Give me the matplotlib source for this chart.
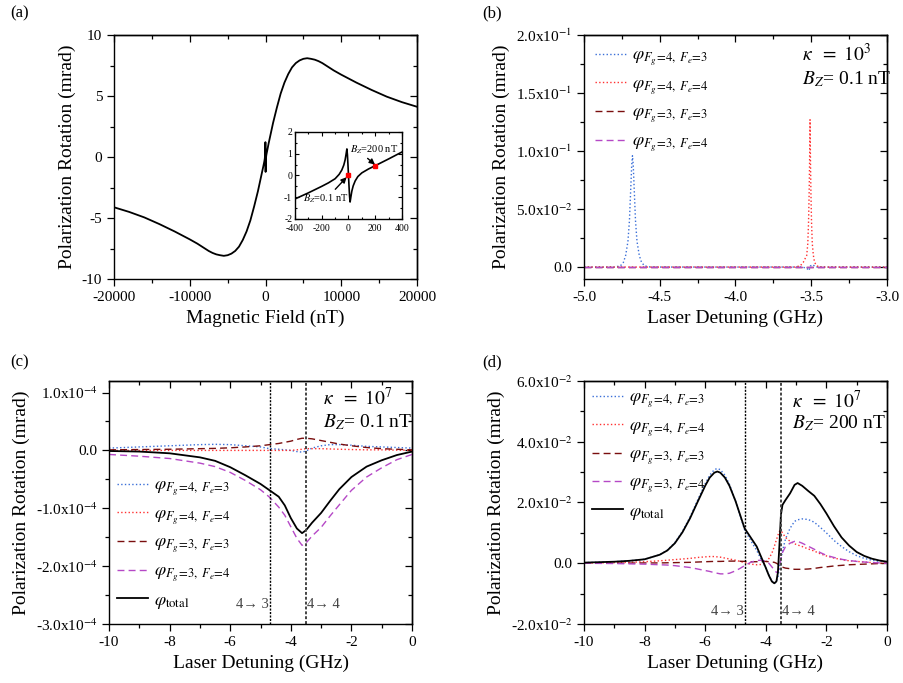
import numpy as np
import matplotlib
matplotlib.use("Agg")
from matplotlib import pyplot as plt
from matplotlib.ticker import MultipleLocator

plt.rcParams['font.family'] = ['Liberation Serif', 'DejaVu Serif']
plt.rcParams['mathtext.fontset'] = 'stix'
plt.rcParams['axes.unicode_minus'] = False
plt.rcParams['axes.linewidth'] = 1.0

# ---- data ----
# (a) rotation vs magnetic field (nT, mrad)
field_a = [-20000, -18000, -16000, -14000, -12000, -10000, -9000, -8000, -7500, -7000, -6500,
           -6000, -5500, -5000, -4500, -4000, -3500, -3000, -2500, -2000, -1500, -1000,
           -400, -300, -200, -150, -100, -70, -50, -35, -25, -18, -12, -8, -4, 0,
           4, 8, 12, 18, 25, 35, 50, 70, 100, 150, 200, 300, 400,
           1000, 1500, 2000, 2500, 3000, 3500, 4000, 4500, 5000, 5500, 6000,
           6500, 7000, 7500, 8000, 9000, 10000, 12000, 14000, 16000, 18000, 20000]
rot_a = [-4.12, -4.5, -4.95, -5.5, -6.1, -6.75, -7.1, -7.5, -7.7, -7.86, -7.98,
         -8.05, -8.1, -8.05, -7.92, -7.7, -7.35, -6.8, -6.1, -5.2, -4.05, -2.8,
         -1.08, -0.80, -0.50, -0.34, -0.15, 0.05, 0.25, 0.48, 0.72, 0.98, 1.22, 0.95, 0.5, 0.0,
         -0.5, -0.95, -1.22, -0.98, -0.72, -0.48, -0.25, -0.05, 0.12, 0.30, 0.45, 0.76, 1.08,
         2.8, 4.05, 5.2, 6.1, 6.8, 7.35, 7.7, 7.92, 8.05, 8.1, 8.05,
         7.98, 7.86, 7.7, 7.5, 7.1, 6.75, 6.1, 5.5, 4.95, 4.5, 4.12]
inset_field = [f for f in field_a if -400 <= f <= 400]
inset_rot = [r for f, r in zip(field_a, rot_a) if -400 <= f <= 400]
marked_field = [0, 200]
marked_rot = [0.0, 0.45]

# (b) kappa = 1e3, Bz = 0.1 nT
det_b43 = [-5.0, -4.8, -4.76, -4.74, -4.725, -4.71, -4.7, -4.69, -4.685, -4.68, -4.675, -4.67,
           -4.66, -4.65, -4.635, -4.62, -4.6, -4.56, -4.5, -3.56, -3.53, -3.515, -3.505, -3.49,
           -3.47, -3.0]
rot_b43 = [0.0, 0.0, 0.001, 0.004, 0.010, 0.022, 0.040, 0.072, 0.088, 0.096, 0.088, 0.072,
           0.040, 0.022, 0.010, 0.004, 0.001, 0.0, 0.0, 0.0, -0.001, -0.003, 0.001, 0.002,
           0.0, 0.0]
det_b44 = [-5.0, -3.61, -3.573, -3.553, -3.53, -3.523, -3.518, -3.514, -3.511, -3.508, -3.505,
           -3.502, -3.498, -3.493, -3.486, -3.478, -3.463, -3.443, -3.41, -3.0]
rot_b44 = [0.0, 0.0, 0.001, 0.004, 0.010, 0.020, 0.038, 0.063, 0.090, 0.127, 0.090,
           0.063, 0.038, 0.020, 0.010, 0.004, 0.001, 0.0, 0.0, 0.0]
det_b33 = [-5.0, -3.0]
rot_b33 = [0.0, 0.0]
det_b34 = [-5.0, -3.0]
rot_b34 = [0.0, 0.0]

# (c) kappa = 1e7, Bz = 0.1 nT  (units of 1e-4 mrad)
det_c = [-10, -9, -8, -7, -6.5, -6, -5.5, -5, -4.7, -4.4, -4.2, -4.0, -3.8, -3.63, -3.5,
         -3.3, -3.0, -2.7, -2.4, -2.0, -1.5, -1.0, -0.5, 0]
c43 = [0.04, 0.06, 0.08, 0.10, 0.105, 0.10, 0.08, 0.06, 0.03, 0.02, 0.01, 0.0, -0.02, -0.03,
       -0.01, 0.04, 0.08, 0.10, 0.10, 0.09, 0.07, 0.06, 0.05, 0.04]
c44 = [0.0, 0.0, 0.0, 0.0, 0.0, 0.0, 0.0, 0.0, 0.0, 0.0, 0.0, 0.0, 0.01, 0.02,
       0.03, 0.03, 0.03, 0.025, 0.02, 0.015, 0.01, 0.01, 0.005, 0.0]
c33 = [0.01, 0.015, 0.02, 0.03, 0.035, 0.045, 0.06, 0.08, 0.10, 0.12, 0.14, 0.16, 0.19, 0.21,
       0.21, 0.20, 0.17, 0.14, 0.11, 0.08, 0.05, 0.03, 0.02, 0.01]
c34 = [-0.07, -0.10, -0.14, -0.22, -0.28, -0.38, -0.52, -0.68, -0.81, -0.98, -1.12, -1.32,
       -1.52, -1.64, -1.60, -1.48, -1.33, -1.13, -0.94, -0.69, -0.46, -0.30, -0.16, -0.07]
c_tot = [-0.01, -0.02, -0.05, -0.12, -0.18, -0.29, -0.43, -0.58, -0.69, -0.80, -0.95, -1.17,
         -1.35, -1.43, -1.38, -1.25, -1.08, -0.87, -0.67, -0.46, -0.28, -0.17, -0.08, -0.02]

# (d) kappa = 1e7, Bz = 200 nT  (units of 1e-2 mrad)
det_d = [-10, -9, -8.5, -8, -7.5, -7.25, -7, -6.75, -6.5, -6.25, -6, -5.85, -5.7, -5.6, -5.5,
         -5.35, -5.2, -5, -4.85, -4.7, -4.5, -4.3, -4.15, -4.0, -3.9, -3.8, -3.72, -3.65,
         -3.6, -3.55, -3.5, -3.45, -3.35, -3.2, -3.05, -2.95, -2.8, -2.6, -2.4, -2.2, -2.0,
         -1.75, -1.5, -1.25, -1.0, -0.75, -0.5, -0.25, 0]
d43 = [0.02, 0.05, 0.08, 0.13, 0.28, 0.43, 0.68, 1.05, 1.52, 2.08, 2.62, 2.9, 3.08, 3.12, 3.08,
       2.9, 2.6, 2.05, 1.58, 1.1, 0.75, 0.42, 0.12, -0.15, -0.38, -0.58, -0.66, -0.62,
       -0.45, -0.15, 0.15, 0.4, 0.8, 1.15, 1.38, 1.43, 1.46, 1.44, 1.35, 1.18, 1.0,
       0.75, 0.55, 0.38, 0.25, 0.16, 0.1, 0.06, 0.04]
d44 = [0.0, 0.02, 0.03, 0.05, 0.08, 0.1, 0.12, 0.14, 0.16, 0.19, 0.21, 0.22, 0.22, 0.21, 0.2,
       0.17, 0.14, 0.1, 0.06, 0.02, -0.03, -0.05, -0.04, 0.02, 0.15, 0.33, 0.55, 0.77,
       0.92, 1.05, 1.08, 1.0, 0.85, 0.72, 0.64, 0.6, 0.55, 0.47, 0.4, 0.31, 0.24,
       0.17, 0.12, 0.08, 0.06, 0.04, 0.02, 0.01, 0.0]
d33 = [0.0, 0.0, 0.005, 0.01, 0.01, 0.015, 0.02, 0.025, 0.03, 0.04, 0.05, 0.055, 0.06, 0.06, 0.06,
       0.065, 0.07, 0.07, 0.065, 0.06, 0.05, 0.05, 0.055, 0.06, 0.05, 0.04, 0.03, 0.0,
       -0.03, -0.06, -0.1, -0.13, -0.16, -0.18, -0.2, -0.2, -0.2, -0.19, -0.17, -0.14, -0.12,
       -0.09, -0.07, -0.05, -0.04, -0.03, -0.02, -0.01, 0.0]
d34 = [0.0, -0.01, -0.02, -0.03, -0.05, -0.06, -0.08, -0.11, -0.14, -0.19, -0.24, -0.27, -0.31,
       -0.33, -0.35, -0.35, -0.33, -0.25, -0.17, -0.08, 0.03, 0.09, 0.1, 0.07, 0.0, -0.12,
       -0.22, -0.3, -0.28, -0.1, 0.15, 0.35, 0.55, 0.66, 0.72, 0.72, 0.66, 0.56, 0.46, 0.35,
       0.26, 0.19, 0.13, 0.09, 0.06, 0.04, 0.02, 0.01, 0.0]
d_tot = [0.02, 0.05, 0.08, 0.13, 0.28, 0.42, 0.66, 1.02, 1.48, 2.02, 2.55, 2.82, 2.98, 3.02, 2.98,
         2.82, 2.55, 2.05, 1.6, 1.15, 0.85, 0.55, 0.2, -0.15, -0.4, -0.6, -0.66, -0.6,
         -0.3, 0.6, 1.6, 1.92, 2.08, 2.3, 2.58, 2.64, 2.55, 2.38, 2.22, 1.95, 1.64,
         1.22, 0.85, 0.58, 0.37, 0.24, 0.15, 0.09, 0.05]

trans_lines = [-4.68, -3.51]

labels = [r'$\varphi_{F_g\!=\!4,\ F_e\!=\!3}$', r'$\varphi_{F_g\!=\!4,\ F_e\!=\!4}$',
          r'$\varphi_{F_g\!=\!3,\ F_e\!=\!3}$', r'$\varphi_{F_g\!=\!3,\ F_e\!=\!4}$',
          r'$\varphi_{\mathrm{total}}$']
colors = ['#3a6fd8', '#ff3030', '#7a0e0e', '#b548c6', 'black']
styles = [':', ':', (0, (5, 3)), (0, (5, 3)), '-']

YLAB = 'Polarization Rotation (mrad)'
XLAB = 'Laser Detuning (GHz)'


def style(ax, xmaj, xmin, ymaj, ymin, fs=11):
    ax.xaxis.set_major_locator(MultipleLocator(xmaj))
    ax.xaxis.set_minor_locator(MultipleLocator(xmin))
    ax.yaxis.set_major_locator(MultipleLocator(ymaj))
    ax.yaxis.set_minor_locator(MultipleLocator(ymin))
    ax.tick_params(which='both', direction='out', labelsize=fs, width=0.9)
    ax.tick_params(which='major', length=5)
    ax.tick_params(which='minor', length=3)
    top = ax.secondary_xaxis('top')
    top.xaxis.set_major_locator(MultipleLocator(xmaj))
    top.xaxis.set_minor_locator(MultipleLocator(xmin))
    top.tick_params(which='both', direction='in', labeltop=False, width=0.9)
    top.tick_params(which='major', length=5)
    top.tick_params(which='minor', length=3)
    right = ax.secondary_yaxis('right')
    right.yaxis.set_major_locator(MultipleLocator(ymaj))
    right.yaxis.set_minor_locator(MultipleLocator(ymin))
    right.tick_params(which='both', direction='in', labelright=False, width=0.9)
    right.tick_params(which='major', length=5)
    right.tick_params(which='minor', length=3)


fig = plt.figure(figsize=(9.04, 6.83), dpi=100)
ax_a = fig.add_axes([0.1261, 0.5915, 0.3352, 0.3572])
ax_b = fig.add_axes([0.646, 0.5915, 0.3352, 0.3572])
ax_c = fig.add_axes([0.1206, 0.0864, 0.3352, 0.3558])
ax_d = fig.add_axes([0.646, 0.0864, 0.3352, 0.3558])

# (a)
ax_a.plot(field_a, rot_a, color='black', lw=1.3)
ax_a.set_xlim(-20000, 20000)
ax_a.set_ylim(-10, 10)
style(ax_a, 10000, 5000, 5, 2.5)
ax_a.set_xlabel('Magnetic Field (nT)', fontsize=14)
ax_a.set_ylabel(YLAB, fontsize=14)

ins = fig.add_axes([0.3263, 0.6794, 0.1184, 0.1274])
ins.plot(inset_field, inset_rot, color='black', lw=1.2)
ins.plot(marked_field, marked_rot, 's', color='red', ms=3.5, mec='red')
ins.set_xlim(-400, 400)
ins.set_ylim(-2, 2)
ins.xaxis.set_major_locator(MultipleLocator(200))
ins.xaxis.set_minor_locator(MultipleLocator(100))
ins.yaxis.set_major_locator(MultipleLocator(1))
ins.yaxis.set_minor_locator(MultipleLocator(0.5))
ins.tick_params(which='both', direction='in', top=True, right=True, labelsize=7,
                width=0.8)
ins.tick_params(axis='x', pad=3.5)
ins.tick_params(axis='y', pad=2)
ins.tick_params(which='major', length=3)
ins.tick_params(which='minor', length=1.5)
ins.annotate(r'$B_Z$=200 nT', xy=(198, 0.5), xytext=(10, 1.2), fontsize=7.5,
             va='center', ha='left',
             arrowprops=dict(arrowstyle='-|>', color='black', lw=1.0,
                             shrinkA=0, shrinkB=0, mutation_scale=8,
                             relpos=(0.3, 0.0)))
ins.annotate(r'$B_Z$=0.1 nT', xy=(-14, -0.08), xytext=(-340, -1.05), fontsize=7.5,
             va='center', ha='left',
             arrowprops=dict(arrowstyle='-|>', color='black', lw=1.0,
                             shrinkA=0, shrinkB=0, mutation_scale=8,
                             relpos=(0.65, 1.0)))

# (b)
ax_b.plot(det_b43, rot_b43, color=colors[0], ls=styles[0], lw=1.0, label=labels[0])
ax_b.plot(det_b44, rot_b44, color=colors[1], ls=styles[1], lw=1.0, label=labels[1])
ax_b.plot(det_b33, rot_b33, color=colors[2], ls=styles[2], lw=1.0, label=labels[2])
ax_b.plot(det_b34, rot_b34, color=colors[3], ls=styles[3], lw=1.0, label=labels[3])
ax_b.set_xlim(-5, -3)
ax_b.set_ylim(-0.0103, 0.2)
style(ax_b, 0.5, 0.25, 0.05, 0.025)
ax_b.set_yticks([0, 0.05, 0.1, 0.15, 0.2])
ax_b.set_yticklabels(['0.0', r'5.0x10$^{-2}$', r'1.0x10$^{-1}$', r'1.5x10$^{-1}$',
                      r'2.0x10$^{-1}$'])
ax_b.set_xticks([-5, -4.5, -4, -3.5, -3])
ax_b.set_xticklabels(['-5.0', '-4.5', '-4.0', '-3.5', '-3.0'])
ax_b.set_xlabel(XLAB, fontsize=14)
ax_b.set_ylabel(YLAB, fontsize=14)
ax_b.legend(loc='upper left', frameon=False, fontsize=13, handlelength=1.75,
            handletextpad=0.3, labelspacing=0.42, borderaxespad=0.2,
            bbox_to_anchor=(0.0, 0.995))
ax_b.text(0.72, 0.922, r'$\kappa\ \ =\ 10^3$', transform=ax_b.transAxes, fontsize=14,
          va='center')
ax_b.text(0.72, 0.82, r'$B_Z$= 0.1 nT', transform=ax_b.transAxes, fontsize=14, va='center')

# (c) and (d)
for ax, det, series, scale in ((ax_c, det_c, (c43, c44, c33, c34, c_tot), 1e-4),
                               (ax_d, det_d, (d43, d44, d33, d34, d_tot), 1e-2)):
    for vals, col, ls, lab in zip(series, colors, styles, labels):
        lw = 1.3 if col == 'black' else 1.0
        ax.plot(det, np.array(vals) * scale, color=col, ls=ls, lw=lw, label=lab)
    ax.axvline(trans_lines[0], color='black', ls=(0, (1.5, 1.0)), lw=1.0)
    ax.axvline(trans_lines[1], color='#444444', ls=(0, (1.5, 1.0)), lw=1.4)
    ax.set_xlim(-10, 0)
    ax.set_xlabel(XLAB, fontsize=14)
    ax.set_ylabel(YLAB, fontsize=14)

ax_c.set_ylim(-3e-4, 1.2e-4)
style(ax_c, 2, 1, 1e-4, 0.5e-4)
ax_c.set_yticks([-3e-4, -2e-4, -1e-4, 0, 1e-4])
ax_c.set_yticklabels([r'-3.0x10$^{-4}$', r'-2.0x10$^{-4}$', r'-1.0x10$^{-4}$', '0.0',
                      r'1.0x10$^{-4}$'])
ax_c.legend(loc='lower left', frameon=False, fontsize=13, handlelength=1.75,
            handletextpad=0.3, labelspacing=0.42, borderaxespad=0.2,
            bbox_to_anchor=(-0.01, 0.01))
ax_c.text(0.706, 0.93, r'$\kappa\ \ =\ 10^7$', transform=ax_c.transAxes, fontsize=14,
          va='center')
ax_c.text(0.706, 0.83, r'$B_Z$= 0.1 nT', transform=ax_c.transAxes, fontsize=14, va='center')
ax_c.text(trans_lines[0] - 0.05, -2.66e-4, '4\u2192 3', ha='right', va='center',
          fontsize=10.5, color='#444444')
ax_c.text(trans_lines[1] + 0.05, -2.66e-4, '4\u2192 4', ha='left', va='center',
          fontsize=10.5, color='#444444')

ax_d.set_ylim(-2e-2, 6e-2)
style(ax_d, 2, 1, 2e-2, 1e-2)
ax_d.set_yticks([-2e-2, 0, 2e-2, 4e-2, 6e-2])
ax_d.set_yticklabels([r'-2.0x10$^{-2}$', '0.0', r'2.0x10$^{-2}$', r'4.0x10$^{-2}$',
                      r'6.0x10$^{-2}$'])
ax_d.legend(loc='upper left', frameon=False, fontsize=13, handlelength=1.75,
            handletextpad=0.3, labelspacing=0.4, borderaxespad=0.2,
            bbox_to_anchor=(-0.01, 1.01))
ax_d.text(0.686, 0.919, r'$\kappa\ \ =\ 10^7$', transform=ax_d.transAxes, fontsize=14,
          va='center')
ax_d.text(0.686, 0.827, r'$B_Z$= 200 nT', transform=ax_d.transAxes, fontsize=14, va='center')
ax_d.text(trans_lines[0] - 0.05, -1.6e-2, '4\u2192 3', ha='right', va='center',
          fontsize=10.5, color='#444444')
ax_d.text(trans_lines[1] + 0.05, -1.6e-2, '4\u2192 4', ha='left', va='center',
          fontsize=10.5, color='#444444')

for lab, x, y in (('(a)', 0.011, 0.98), ('(b)', 0.533, 0.98), ('(c)', 0.011, 0.47),
                  ('(d)', 0.533, 0.47)):
    fig.text(x, y, lab, fontsize=12, va='center', ha='left')

fig.savefig('out.png', dpi=100)
